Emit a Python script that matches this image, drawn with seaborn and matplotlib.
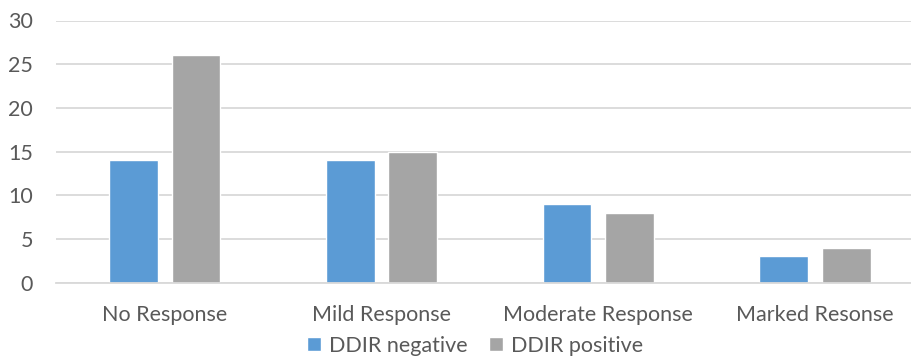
import matplotlib
matplotlib.use("Agg")
import matplotlib.pyplot as plt
import seaborn as sns
import pandas as pd

categories = ["No Response", "Mild Response", "Moderate Response", "Marked Resonse"]
ddir_negative = [14, 14, 9, 3]
ddir_positive = [26, 15, 8, 4]
series_names = ["DDIR negative", "DDIR positive"]
y_ticks = [0, 5, 10, 15, 20, 25, 30]

df = pd.DataFrame({
    "Response": categories * 2,
    "Count": ddir_negative + ddir_positive,
    "Group": [series_names[0]] * len(categories) + [series_names[1]] * len(categories),
})

sns.set_theme(style="white")
plt.rcParams["font.family"] = ["Lato", "DejaVu Sans"]

text_color = "#595959"
grid_color = "#D9D9D9"
palette = {series_names[0]: "#5B9BD5", series_names[1]: "#A5A5A5"}
font_size = 15.5

fig = plt.figure(figsize=(9.12, 3.58), dpi=100)
# plot area runs slightly past the right edge of the canvas
ax = fig.add_axes([56.4 / 912, 75.3 / 358, 867 / 912, 262.2 / 358])

sns.barplot(data=df, x="Response", y="Count", hue="Group", palette=palette,
            order=categories, hue_order=series_names, width=0.577, gap=0.22,
            saturation=1, ax=ax, legend=True)

ax.set_ylim(0, 30)
ax.set_yticks(y_ticks)
ax.set_xlim(-0.5, len(categories) - 0.5)
ax.yaxis.grid(True, color=grid_color, linewidth=1.3)
ax.set_axisbelow(True)
for side in ["top", "right", "left"]:
    ax.spines[side].set_visible(False)
ax.spines["bottom"].set_color(grid_color)
ax.spines["bottom"].set_linewidth(1.3)
ax.set_xlabel("")
ax.set_ylabel("")
ax.tick_params(axis="both", length=0, colors=text_color, labelsize=font_size)
ax.tick_params(axis="y", pad=17)
ax.tick_params(axis="x", pad=16)

handles, labels = ax.get_legend_handles_labels()
ax.get_legend().remove()
fig.legend(handles, labels, loc="center", bbox_to_anchor=(0.521, 0.034), ncol=2,
           frameon=False, fontsize=font_size, labelcolor=text_color,
           handlelength=0.65, handleheight=0.65, handletextpad=0.35, columnspacing=1.0,
           borderpad=0)

fig.savefig("out.png", dpi=100)
